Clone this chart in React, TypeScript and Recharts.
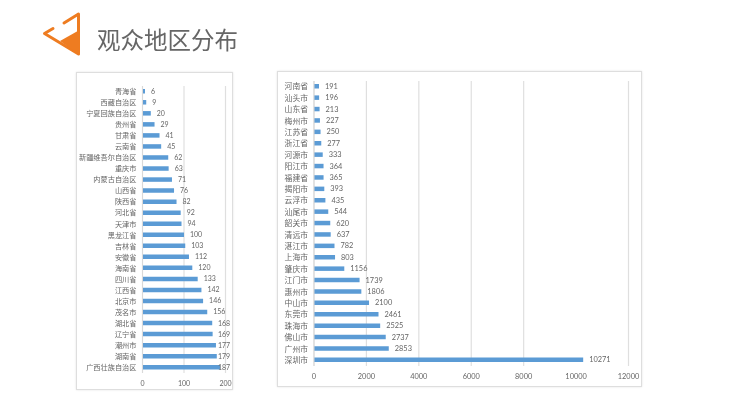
import { BarChart, Bar, CartesianGrid, XAxis, YAxis, LabelList } from "recharts";

const provinces = ["青海省", "西藏自治区", "宁夏回族自治区", "贵州省", "甘肃省", "云南省", "新疆维吾尔自治区", "重庆市", "内蒙古自治区", "山西省", "陕西省", "河北省", "天津市", "黑龙江省", "吉林省", "安徽省", "海南省", "四川省", "江西省", "北京市", "茂名市", "湖北省", "辽宁省", "潮州市", "湖南省", "广西壮族自治区"];
const provinceCounts = [6, 9, 20, 29, 41, 45, 62, 63, 71, 76, 82, 92, 94, 100, 103, 112, 120, 133, 142, 146, 156, 168, 169, 177, 179, 187];
const provinceTicks = [0, 100, 200];

const cities = ["河南省", "汕头市", "山东省", "梅州市", "江苏省", "浙江省", "河源市", "阳江市", "福建省", "揭阳市", "云浮市", "汕尾市", "韶关市", "清远市", "湛江市", "上海市", "肇庆市", "江门市", "惠州市", "中山市", "东莞市", "珠海市", "佛山市", "广州市", "深圳市"];
const cityCounts = [191, 196, 213, 227, 250, 277, 333, 364, 365, 393, 435, 544, 620, 637, 782, 803, 1156, 1739, 1806, 2100, 2461, 2525, 2737, 2853, 10271];
const cityTicks = [0, 2000, 4000, 6000, 8000, 10000, 12000];

const BLUE = "#5b9bd5";
const GRID = "#dfdfdf";
const TEXT = "#666";
const cjk = '"Noto Sans CJK SC", sans-serif';
const num = "Lato, sans-serif";

const toRows = (names: string[], values: number[]) => names.map((name, i) => ({ name, value: values[i] }));

// labels near the right edge get pushed back over the bar, like in the original
const ValueLabel = (props: any) => {
  const { x, y, width, height, value, maxStart, fontSize } = props;
  return (
    <text x={Math.min(x + width + 6, maxStart)} y={y + height / 2} dy="0.35em" fontSize={fontSize} fontFamily={num} fill={TEXT}>
      {value}
    </text>
  );
};

function Panel({ rows, ticks, max, box, yWidth, right, top, xHeight, catSize, numSize, maxStart }: any) {
  return (
    <div style={{ position: "absolute", ...box, background: "#fff", border: "1px solid #dedede", boxSizing: "border-box", boxShadow: "0 0 2px #e4e4e4" }}>
      <BarChart
        width={box.width - 2}
        height={box.height - 2}
        data={rows}
        layout="vertical"
        barCategoryGap={0}
        margin={{ top, right, bottom: 0, left: 0 }}
      >
        <CartesianGrid horizontal={false} stroke={GRID} strokeWidth={1.2} />
        <XAxis
          type="number"
          domain={[0, max]}
          ticks={ticks}
          height={xHeight}
          axisLine={false}
          tickLine={false}
          tick={{ fontSize: numSize, fontFamily: num, fill: TEXT }}
        />
        <YAxis
          type="category"
          dataKey="name"
          width={yWidth}
          interval={0}
          axisLine={{ stroke: "#d9d9d9" }}
          tickLine={false}
          tickMargin={0}
          tick={{ fontSize: catSize, fontFamily: cjk, fill: TEXT }}
        />
        <Bar dataKey="value" fill={BLUE} barSize={4.5} isAnimationActive={false}>
          <LabelList dataKey="value" content={(p: any) => <ValueLabel {...p} maxStart={maxStart} fontSize={numSize} />} />
        </Bar>
      </BarChart>
    </div>
  );
}

export default function App() {
  return (
    <div style={{ position: "absolute", left: 0, top: 0, width: 740, height: 414, background: "#fff", overflow: "hidden", filter: "blur(0.35px)" }}>
      <svg width={60} height={60} style={{ position: "absolute", left: 40, top: 8 }}>
        <polyline points="24,15 38.5,6 38.5,46 4.5,25.5 13,20.5" fill="none" stroke="#ee7c21" strokeWidth={3} strokeLinejoin="round" strokeLinecap="round" />
        <polygon points="20,33 39.5,22 39.5,47" fill="#ee7c21" />
      </svg>
      <div style={{ position: "absolute", left: 97, top: 23, fontSize: 23.5, lineHeight: "32px", color: "#666", fontFamily: cjk, whiteSpace: "nowrap" }}>
        观众地区分布
      </div>
      <Panel rows={toRows(provinces, provinceCounts)} ticks={provinceTicks} max={200}
        box={{ left: 76, top: 72, width: 157, height: 318 }}
        yWidth={65.5} right={6.5} top={13} xHeight={16} catSize={7.2} numSize={7} maxStart={141} />
      <Panel rows={toRows(cities, cityCounts)} ticks={cityTicks} max={12000}
        box={{ left: 277, top: 71, width: 365, height: 316 }}
        yWidth={36} right={12.5} top={9} xHeight={20} catSize={7.8} numSize={7.4} maxStart={400} />
    </div>
  );
}
